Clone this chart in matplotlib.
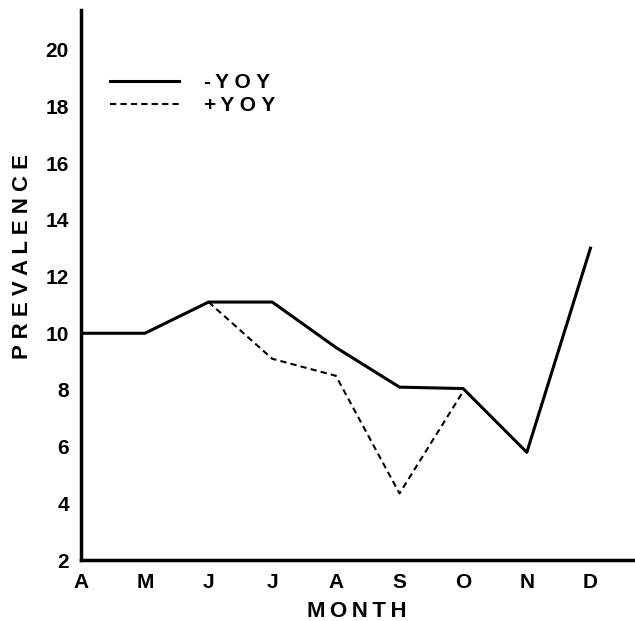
import matplotlib.pyplot as plt

months = ['A', 'M', 'J', 'J', 'A', 'S', 'O', 'N', 'D']
minus_yoy = [10.0, 10.0, 11.1, 11.1, 9.5, 8.1, 8.05, 5.8, 13.0]
plus_yoy_months = [2, 3, 4, 5, 6]
plus_yoy = [11.1, 9.1, 8.5, 4.35, 7.95]

plt.rcParams['font.family'] = ['Liberation Sans', 'DejaVu Sans']
plt.rcParams['font.weight'] = 'bold'

fig = plt.figure(figsize=(6.35, 6.21), dpi=100)
ax = fig.add_axes([0.128, 0.098, 0.872, 0.886])

solid, = ax.plot(range(len(months)), minus_yoy, color='black', linewidth=2.2, linestyle='-')
dashed, = ax.plot(plus_yoy_months, plus_yoy, color='black', linewidth=1.5, linestyle=(0, (3, 2)))

ax.set_xlim(0, 8.7)
ax.set_ylim(2, 21.4)
ax.set_xticks(range(len(months)))
ax.set_xticklabels(months)
ax.set_yticks(range(2, 21, 2))
ax.tick_params(axis='both', length=0, labelsize=15)
ax.tick_params(axis='y', pad=9)
ax.tick_params(axis='x', pad=9)
for lbl in ax.get_xticklabels() + ax.get_yticklabels():
    lbl.set_fontweight('bold')

for side in ['top', 'right']:
    ax.spines[side].set_visible(False)
for side in ['left', 'bottom']:
    ax.spines[side].set_linewidth(2.5)

ax.set_xlabel('M\u2009O\u2009N\u2009T\u2009H', fontsize=16, fontweight='bold')
ax.xaxis.set_label_coords(0.498, -0.074)
ax.set_ylabel('P R E V A L E N C E', fontsize=16, fontweight='bold')
ax.yaxis.set_label_coords(-0.088, 0.551)

ax.legend([solid, dashed], ['-\u2009Y O Y', '+\u2009Y O Y'], loc='upper left',
          bbox_to_anchor=(0.052, 0.885), frameon=False, borderpad=0, borderaxespad=0,
          handlelength=3.3, handletextpad=1.2, labelspacing=0.2,
          prop={'size': 15, 'weight': 'bold'})

fig.savefig('out.png', dpi=100)
